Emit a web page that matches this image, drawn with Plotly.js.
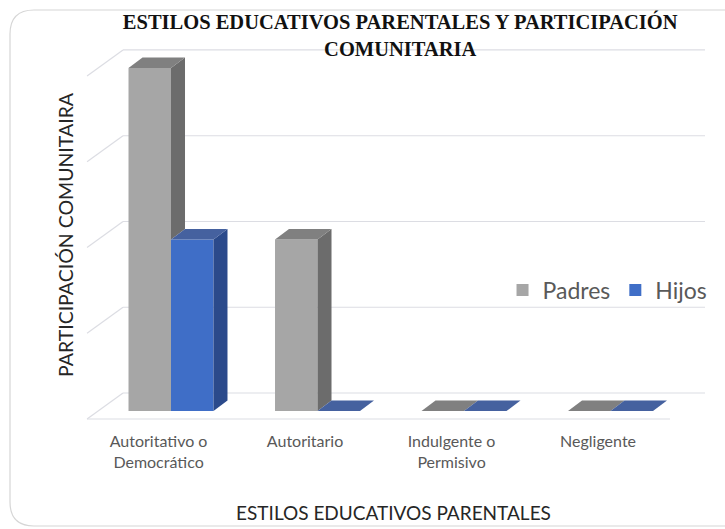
<!DOCTYPE html>
<html>
<head>
<meta charset="utf-8">
<script src="https://cdn.plot.ly/plotly-3.0.1.min.js"></script>
<style>html,body{margin:0;padding:0;background:#fff}#chart{width:725px;height:529px}</style>
</head>
<body>
<div id="chart"></div>
<script>
// ---- data ----
const categories = ['Autoritativo o<br>Democrático', 'Autoritario', 'Indulgente o<br>Permisivo', 'Negligente'];
const seriesNames = ['Padres', 'Hijos'];
const padres = [4, 2, 0, 0];
const hijos = [2, 0, 0, 0];
const gridValues = [0, 1, 2, 3, 4];

// ---- style / geometry ----
const BW = 0.29;          // bar width (x units)
const DX = 0.0956, DY = 0.1225;   // bar depth offset
const LABEL_SHIFT = -0.085;
const WALL_FX = -0.573, WALL_BX = -0.3276, FRONT_DY = -0.0933, BACK_DY = 0.21;
const FLOOR_RIGHT = 3.406, BACK_RIGHT = 3.645;
const COLORS = {
  front: ['#a6a6a6', '#3f6ec7'],
  side:  ['#6c6c6c', '#2b4a8b'],
  top:   ['#808080', '#45619f']
};
const idx = categories.map((_, i) => i);
const values = [padres, hijos];
const offsets = [-BW, 0];

const traces = [];
values.forEach((vals, s) => {
  traces.push({
    type: 'bar', name: seriesNames[s], x: idx, y: vals,
    width: BW, offset: offsets[s],
    marker: {color: COLORS.front[s], line: {width: 0}},
    hoverinfo: 'y+name'
  });
});

function poly(xs, ys, color) {
  traces.push({
    type: 'scatter', mode: 'lines', x: xs, y: ys, fill: 'toself',
    fillcolor: color, line: {width: 0, color: color},
    showlegend: false, hoverinfo: 'skip'
  });
}

idx.forEach(i => {
  values.forEach((vals, s) => {
    const v = vals[i];
    const xl = i + offsets[s], xr = xl + BW;
    if (v > 0) {
      let lo = 0;
      if (s === 0) lo = Math.min(hijos[i], v);
      if (!(s === 0 && hijos[i] >= v)) {
        poly([xr, xr + DX, xr + DX, xr, xr], [lo, lo + DY, v + DY, v, lo], COLORS.side[s]);
      }
    }
    poly([xl, xl + DX, xr + DX, xr, xl], [v, v + DY, v + DY, v, v], COLORS.top[s]);
  });
});

// ---- wall / floor lines ----
const GRID = '#dcdde3';
const shapes = [];
gridValues.forEach(g => {
  shapes.push({type: 'line', xref: 'x', yref: 'y', layer: 'below',
    x0: WALL_BX, y0: g + BACK_DY, x1: BACK_RIGHT, y1: g + BACK_DY, line: {color: GRID, width: 1.2}});
  shapes.push({type: 'line', xref: 'x', yref: 'y', layer: 'below',
    x0: WALL_FX, y0: g + FRONT_DY, x1: WALL_BX, y1: g + BACK_DY, line: {color: GRID, width: 1.2}});
});
shapes.push({type: 'line', xref: 'x', yref: 'y', layer: 'below',
  x0: WALL_FX, y0: FRONT_DY, x1: FLOOR_RIGHT, y1: FRONT_DY, line: {color: GRID, width: 1.2}});

// rounded outer border (paper coords)
const L = 82, T = 45, W = 623, H = 380;
const px = x => (x - L) / W, py = y => (T + H - y) / H;
const bl = 10, bt = 10, br = 745, bb = 526, r = 24;
shapes.push({type: 'path', xref: 'paper', yref: 'paper', layer: 'below',
  path: `M${px(bl + r)},${py(bt)} L${px(br)},${py(bt)} L${px(br)},${py(bb)} L${px(bl + r)},${py(bb)} ` +
        `Q${px(bl)},${py(bb)} ${px(bl)},${py(bb - r)} L${px(bl)},${py(bt + r)} Q${px(bl)},${py(bt)} ${px(bl + r)},${py(bt)} Z`,
  line: {color: '#d6d6d6', width: 1.2}});

const layout = {
  width: 725, height: 529,
  margin: {l: L, r: 725 - L - W, t: T, b: 529 - T - H, pad: 0},
  paper_bgcolor: '#ffffff', plot_bgcolor: 'rgba(0,0,0,0)',
  title: {
    text: 'ESTILOS EDUCATIVOS PARENTALES Y PARTICIPACIÓN<br>COMUNITARIA',
    font: {family: 'Liberation Serif', size: 20.5, color: '#111111', weight: 700},
    x: 0.552, xanchor: 'center', xref: 'container', y: 0.945, yanchor: 'top', yref: 'container'
  },
  xaxis: {
    range: [-0.6075, 3.645], tickmode: 'array',
    tickvals: idx.map(i => i + LABEL_SHIFT), ticktext: categories,
    showgrid: false, zeroline: false, showline: false, ticks: '',
    ticklabelstandoff: 5,
    tickfont: {family: 'Lato', size: 16, color: '#595959'},
    title: {text: 'ESTILOS EDUCATIVOS PARENTALES', font: {family: 'Lato', size: 19, color: '#262626'}, standoff: 36},
    fixedrange: true
  },
  yaxis: {
    range: [-0.163, 4.268], showgrid: false, zeroline: false, showline: false,
    showticklabels: false, ticks: '',
    title: {text: 'PARTICIPACIÓN COMUNITAIRA', font: {family: 'Lato', size: 19.5, color: '#262626'}, standoff: 2},
    fixedrange: true
  },
  legend: {
    orientation: 'h', x: 0.675, xanchor: 'left', y: 0.355, yanchor: 'middle',
    font: {family: 'Lato', size: 23, color: '#595959'}, bgcolor: 'rgba(0,0,0,0)'
  },
  barmode: 'overlay', showlegend: true,
  shapes: shapes
};

Plotly.newPlot('chart', traces, layout, {displayModeBar: false, staticPlot: true});
</script>
</body>
</html>
